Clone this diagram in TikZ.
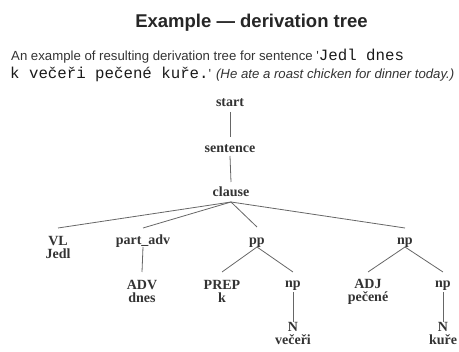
\documentclass[tikz,border=0pt]{standalone}
\usepackage{fontspec}
\setmainfont{Liberation Serif}
\newfontfamily\slidesans{Liberation Sans}
\newfontfamily\slidemono{Liberation Mono}
\usetikzlibrary{positioning}

\begin{document}
\begin{tikzpicture}[x=1pt,y=-1pt,
  txt/.style={anchor=base west,inner sep=0pt,text=black!80},
  tnode/.style={anchor=base,inner sep=0pt,align=center,text=black!80,
    font=\fontsize{14}{13.5}\selectfont\bfseries},
  branch/.style={draw=black!60,line width=.8pt}]
\useasboundingbox (0,0) rectangle (459,352);
% heading and sentence
\node[anchor=base,inner sep=0pt,text=black!85,
  font=\slidesans\bfseries\fontsize{18.5}{20}\selectfont] (title) at (251.5,28)
  {Example — derivation tree};
\node[txt] (line1) at (11,61) {\slidesans\fontsize{13.2}{15}\selectfont
  An example of resulting derivation tree for sentence \textquotesingle\slidemono
  \fontsize{15.75}{18}\selectfont\color{black!90}Jedl dnes};
\node[txt] (line2) at (10,79) {{\slidemono\fontsize{15.75}{18}\selectfont
  \color{black!90}k večeři pečené kuře.}\slidesans\fontsize{13.2}{15}\selectfont
  \textquotesingle{} \itshape (He ate a roast chicken for dinner today.)};
% tree (two-line nodes sit on their last line)
\node[tnode] (start) at (230,107) {start};
\node[tnode] (sentence) at (230,153) {sentence};
\node[tnode] (clause) at (231,197) {clause};
\node[tnode] (vl) at (58,259) {VL\\Jedl};
\node[tnode] (padv) at (143,245) {part\_adv};
\node[tnode] (pp) at (257,245) {pp};
\node[tnode] (np) at (405,245) {np};
\node[tnode] (adv) at (142,303) {ADV\\dnes};
\node[tnode] (prep) at (222,303) {PREP\\k};
\node[tnode] (npa) at (293,288) {np};
\node[tnode] (adj) at (368,302) {ADJ\\pečené};
\node[tnode] (npb) at (443,288) {np};
\node[tnode] (na) at (293,345) {N\\večeři};
\node[tnode] (nb) at (443,345) {N\\kuře};
\draw[branch] ([yshift=-5pt]start.base) -- ([yshift=16pt]sentence.base);
\draw[branch] ([yshift=-3pt]sentence.base) -- ([yshift=15pt]clause.base);
\draw[branch] ([yshift=-5pt]clause.base) -- ([yshift=31pt]vl.base);
\draw[branch] ([yshift=-5pt]clause.base) -- ([yshift=17pt]padv.base);
\draw[branch] ([yshift=-5pt]clause.base) -- ([yshift=18pt]pp.base);
\draw[branch] ([yshift=-5pt]clause.base) -- ([yshift=17pt]np.base);
\draw[branch] ([yshift=-2pt]padv.base) -- ([yshift=31pt]adv.base);
\draw[branch] ([yshift=-2pt]pp.base) -- ([yshift=31pt]prep.base);
\draw[branch] ([yshift=-2pt]pp.base) -- ([yshift=16pt]npa.base);
\draw[branch] ([yshift=-2pt]np.base) -- ([yshift=30pt]adj.base);
\draw[branch] ([yshift=-2pt]np.base) -- ([yshift=16pt]npb.base);
\draw[branch] ([yshift=-4pt]npa.base) -- ([yshift=23pt]na.base);
\draw[branch] ([yshift=-4pt]npb.base) -- ([yshift=23pt]nb.base);
\end{tikzpicture}
\end{document}
